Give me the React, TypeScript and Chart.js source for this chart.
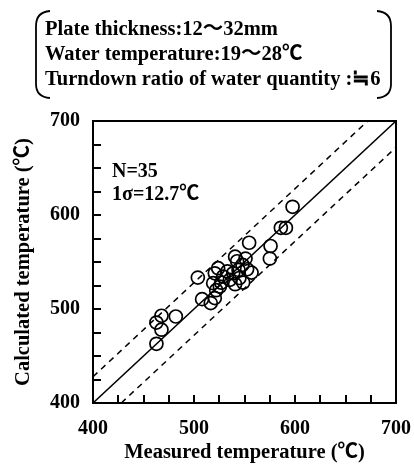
import React, { useEffect, useRef } from "react";
import { Chart, registerables } from "chart.js";

Chart.register(...registerables);

const measuredTemp = [
  462.8, 467.8, 482, 467.8, 462.8,
  503.8, 508, 516.6, 520.6, 520.6, 523.9, 519, 525.6, 528.9, 535.5,
  538.8, 540.7, 542.7, 540.7, 544.1, 548.7, 551, 552.6, 557, 554.6,
  545, 533, 527, 548, 522,
  575.8, 575.1, 586, 591, 597.6,
];
const calculatedTemp = [
  485.6, 492.8, 492, 478, 463,
  533.4, 510.5, 506.3, 511.6, 538, 543.4, 527.5, 523.9, 534.5, 531,
  538, 555.7, 550.8, 526.4, 541.6, 528.1, 553.6, 542.3, 538.7, 570.5,
  533, 540, 528, 547, 520,
  567, 553.6, 586.4, 586.4, 608.7,
];
const axisMin = 400;
const axisMax = 700;
const minorStep = 25;
const bandOffset = 28;
const headerLines = [
  "Plate thickness:12〜32mm",
  "Water temperature:19〜28℃",
  "Turndown ratio of water quantity :≒6",
];
const statLines = ["N=35", "1σ=12.7℃"];
const xTitle = "Measured temperature (℃)";
const yTitle = "Calculated temperature (℃)";

const SERIF = '"Liberation Serif", "Times New Roman", "Noto Sans CJK JP", serif';

const decorPlugin = {
  id: "decor",
  afterDraw(chart: any) {
    const ctx = chart.ctx;
    const a = chart.chartArea;
    ctx.save();
    ctx.fillStyle = "#000";
    ctx.strokeStyle = "#000";
    ctx.setLineDash([]);

    // inward minor tick marks (every 25 units)
    const w = a.right - a.left;
    const h = a.bottom - a.top;
    const n = Math.round((axisMax - axisMin) / minorStep);
    for (let i = 1; i < n; i++) {
      const px = Math.round(a.left + (w * i) / n);
      ctx.fillRect(px - 1, a.bottom - 8, 2, 8);
      const py = Math.round(a.bottom - (h * i) / n);
      ctx.fillRect(a.left, py - 1, 8, 2);
    }

    ctx.lineWidth = 2;
    ctx.strokeRect(a.left, a.top, w, h);

    // header brackets
    ctx.lineWidth = 1.8;
    ctx.beginPath();
    ctx.moveTo(50, 11);
    ctx.quadraticCurveTo(36, 12, 36, 26);
    ctx.lineTo(36, 84);
    ctx.quadraticCurveTo(36, 97, 50, 98);
    ctx.stroke();
    ctx.beginPath();
    ctx.moveTo(377, 11);
    ctx.quadraticCurveTo(391, 12, 391, 26);
    ctx.lineTo(391, 84);
    ctx.quadraticCurveTo(391, 97, 377, 98);
    ctx.stroke();

    ctx.textAlign = "left";
    ctx.textBaseline = "alphabetic";
    ctx.font = `bold 20.5px ${SERIF}`;
    headerLines.forEach((t, i) => ctx.fillText(t, 45, 35 + i * 25));

    ctx.font = `bold 20px ${SERIF}`;
    statLines.forEach((t, i) => ctx.fillText(t, 112, 177 + i * 23));
    ctx.restore();
  },
};

export default function App() {
  const ref = useRef<HTMLCanvasElement>(null);
  useEffect(() => {
    const points = measuredTemp.map((x, i) => ({ x, y: calculatedTemp[i] }));
    const tickFont = { family: SERIF, size: 20, weight: "bold" as const };
    const titleFont = { family: SERIF, size: 20.5, weight: "bold" as const };
    const chart = new Chart(ref.current!, {
      type: "scatter",
      data: {
        datasets: [
          {
            data: points,
            pointStyle: "circle",
            pointRadius: 6.5,
            pointBorderWidth: 1.7,
            borderColor: "#000",
            backgroundColor: "rgba(0,0,0,0)",
            order: 0,
          },
          {
            type: "line",
            data: [{ x: axisMin, y: axisMin }, { x: axisMax, y: axisMax }],
            borderColor: "#000",
            borderWidth: 1.5,
            pointRadius: 0,
            order: 1,
          },
          {
            type: "line",
            data: [{ x: axisMin, y: axisMin + bandOffset }, { x: axisMax - bandOffset, y: axisMax }],
            borderColor: "#000",
            borderWidth: 1.5,
            borderDash: [6, 5],
            pointRadius: 0,
            order: 1,
          },
          {
            type: "line",
            data: [{ x: axisMin + bandOffset, y: axisMin }, { x: axisMax, y: axisMax - bandOffset }],
            borderColor: "#000",
            borderWidth: 1.5,
            borderDash: [6, 5],
            pointRadius: 0,
            order: 1,
          },
        ] as any,
      },
      options: {
        animation: false,
        responsive: true,
        maintainAspectRatio: false,
        layout: { padding: { top: 121, right: 18, left: 0, bottom: 0 } },
        plugins: { legend: { display: false }, tooltip: { enabled: false } },
        scales: {
          x: {
            type: "linear",
            min: axisMin,
            max: axisMax,
            afterFit: (s: any) => {
              s.height = 67;
              s.paddingLeft = 0;
              s.paddingRight = 0;
            },
            ticks: {
              stepSize: 100,
              autoSkip: false,
              maxRotation: 0,
              padding: 14,
              color: "#000",
              font: tickFont,
            },
            grid: { drawOnChartArea: false, drawTicks: false, color: "#000", lineWidth: 1.5 },
            border: { display: true, color: "#000", width: 2 },
            title: { display: true, text: xTitle, color: "#000", font: titleFont, padding: { top: 0, bottom: 5 } },
          },
          y: {
            type: "linear",
            min: axisMin,
            max: axisMax,
            afterFit: (s: any) => {
              s.width = 93;
              s.paddingTop = 0;
              s.paddingBottom = 0;
            },
            ticks: {
              stepSize: 100,
              autoSkip: false,
              padding: 13,
              color: "#000",
              font: tickFont,
            },
            grid: { drawOnChartArea: false, drawTicks: false, color: "#000", lineWidth: 1.5 },
            border: { display: true, color: "#000", width: 2 },
            title: { display: true, text: yTitle, color: "#000", font: titleFont, padding: { top: 11, bottom: 0 } },
          },
        },
      },
      plugins: [decorPlugin],
    });
    return () => chart.destroy();
  }, []);
  return (
    <div style={{ position: "absolute", left: 0, top: 0, width: 414, height: 470 }}>
      <canvas ref={ref} />
    </div>
  );
}
